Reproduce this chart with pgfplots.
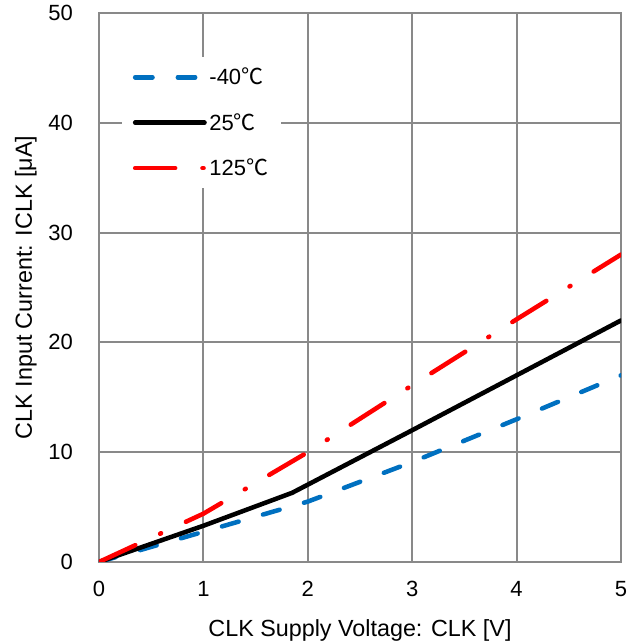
\documentclass[border=0pt]{standalone}
\usepackage{fontspec}
\setmainfont{Liberation Sans}
\newfontfamily\cjk{Noto Sans CJK JP}
\usepackage{pgfplots}
\pgfplotsset{compat=1.18}
\definecolor{cblue}{RGB}{0,112,192}
\definecolor{cgrid}{RGB}{137,137,137}
\begin{document}
\begin{tikzpicture}
\begin{axis}[name=ax, scale only axis, width=391.5pt, height=411.75pt,
  xmin=0, xmax=5, ymin=0, ymax=50,
  xtick={0,1,2,3,4,5}, ytick={0,10,20,30,40,50},
  grid=major, grid style={draw=cgrid, line width=1.5pt},
  axis line style={draw=cgrid, line width=1.5pt},
  major tick length=0pt,
  /pgf/number format/assume math mode=true,
  ticklabel style={font=\fontsize{16.5}{19}\selectfont},
  xticklabel style={yshift=-11pt},
  yticklabel style={xshift=-16pt},
  xlabel={CLK Supply Voltage: CLK [V]},
  ylabel={CLK Input Current: ICLK [μA]},
  label style={font=\fontsize{17.5}{20}\selectfont},
  xlabel style={yshift=-10pt},
  ylabel style={yshift=2pt},
  legend style={at={(0.044,0.92)}, anchor=north west, draw=none, fill=white,
    font=\fontsize{16.5}{19}\selectfont, row sep=16pt, inner xsep=8pt, inner ysep=6pt},
  legend cell align=left,
  legend image code/.code={\draw[#1] (0pt,0pt) -- (52pt,0pt);},
]
\addplot[cblue, line width=3.4pt, line cap=round, dash pattern=on 13pt off 19pt] coordinates {(0,0) (1,2.75) (2,5.5) (3,9.1) (4,13) (5,17)};
\addlegendentry{-40{\cjk ℃}}
\addplot[black, line width=3.4pt, line cap=round] coordinates {(0,0) (1,3.3) (1.85,6.3) (3,12) (4,17) (5,22)};
\addlegendentry{25{\cjk ℃}}
\addplot[red, line width=3.4pt, line cap=round, dash pattern=on 30pt off 20.5pt on 0.8pt off 20.5pt] coordinates {(0,0) (1,4.4) (2,10) (3,16.1) (4,22.1) (5,28)};
\addlegendentry{125{\cjk ℃}}
\end{axis}
\pgfresetboundingbox
\path[use as bounding box] ([shift={(-74.25pt,-60pt)}]ax.south west) rectangle ([shift={(15.75pt,9.75pt)}]ax.north east);
\end{tikzpicture}
\end{document}
